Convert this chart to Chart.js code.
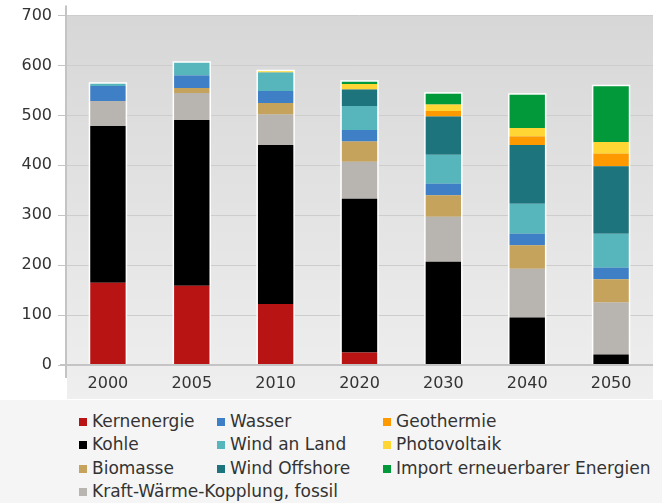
<!DOCTYPE html>
<html>
<head>
<meta charset="utf-8">
<script src="https://cdn.jsdelivr.net/npm/chart.js@4/dist/chart.umd.min.js"></script>
<style>
  body { margin: 0; background: #ffffff; width: 662px; height: 503px; overflow: hidden; position: relative; font-family: "DejaVu Sans", Verdana, sans-serif; }
  #wrap { position: absolute; left: 0; top: 0; width: 662px; height: 400px; }
  #legend-bg { position: absolute; left: 0; top: 400px; width: 662px; height: 103px; background: #f5f5f5; }
  #legend { position: absolute; left: 79px; top: 410px; display: grid;
            grid-template-rows: repeat(4, 23.3px); grid-template-columns: 138px 166px auto; }
  .item { font-size: 17px; color: #333; line-height: 23.3px; white-space: nowrap; }
  .box { display: inline-block; width: 8px; height: 8px; margin-right: 5px; vertical-align: 1px; }
</style>
</head>
<body>
<div id="legend-bg"></div>
<div id="wrap"><canvas id="myChart" width="662" height="400"></canvas></div>
<div id="legend"></div>
<script>
const years = ["2000", "2005", "2010", "2020", "2030", "2040", "2050"];
const yTicks = [0, 100, 200, 300, 400, 500, 600, 700];

const seriesNames = ["Kernenergie", "Kohle", "Kraft-Wärme-Kopplung, fossil", "Biomasse", "Wasser",
    "Wind an Land", "Wind Offshore", "Geothermie", "Photovoltaik", "Import erneuerbarer Energien"];
const seriesColors = ["#b81414", "#000000", "#b8b4b0", "#c6a35c", "#3f7fc6",
    "#57b5bc", "#1e747c", "#ff9900", "#ffd634", "#02993a"];

const kernenergie = [165, 159, 122, 25, 0, 0, 0];
const kohle = [314, 332, 319, 308, 207, 95, 21];
const kwkFossil = [50, 54, 61, 74, 90, 98, 104];
const biomasse = [0, 10, 23, 41, 43, 47, 47];
const wasser = [30, 25, 24, 23, 23, 23, 23];
const windLand = [6, 27, 37, 48, 58, 60, 68];
const windOffshore = [0, 0, 0, 33, 77, 118, 135];
const geothermie = [0, 0, 0, 0, 11, 17, 25];
const photovoltaik = [0, 0, 4, 11, 13, 17, 24];
const importEE = [0, 0, 0, 6, 23, 68, 113];

const seriesData = [kernenergie, kohle, kwkFossil, biomasse, wasser,
    windLand, windOffshore, geothermie, photovoltaik, importEE];

// legend, column by column like the original: 4 / 3 / 3
const legendOrder = [0, 1, 3, 2, 4, 5, 6, 7, 8, 9];
const legendBox = document.getElementById("legend");
legendOrder.forEach((i, n) => {
    const div = document.createElement("div");
    div.className = "item";
    div.innerHTML = '<span class="box" style="background:' + seriesColors[i] + '"></span>' + seriesNames[i];
    let col, row;
    if (n < 4) { col = 1; row = n + 1; }
    else if (n < 7) { col = 2; row = n - 3; }
    else { col = 3; row = n - 6; }
    div.style.gridColumn = col;
    div.style.gridRow = row;
    legendBox.appendChild(div);
});

const panelPlugin = {
    id: "panel",
    beforeDraw(chart) {
        const { ctx, chartArea } = chart;
        const top = chartArea.top;
        const bottom = chartArea.bottom + 34;
        const g = ctx.createLinearGradient(0, top, 0, bottom);
        g.addColorStop(0, "#d7d7d7");
        g.addColorStop(1, "#efefef");
        ctx.save();
        ctx.fillStyle = g;
        ctx.fillRect(chartArea.left + 1, top, chartArea.right - chartArea.left - 1, bottom - top);
        ctx.restore();
    },
    afterDraw(chart) {
        const { ctx, chartArea } = chart;
        ctx.save();
        ctx.strokeStyle = "#c4c4c4";
        ctx.lineWidth = 2;
        ctx.beginPath();
        ctx.moveTo(chartArea.left, chartArea.top - 10);
        ctx.lineTo(chartArea.left, chartArea.bottom + 13);
        ctx.moveTo(chartArea.left - 6, chartArea.bottom);
        ctx.lineTo(chartArea.right, chartArea.bottom);
        ctx.stroke();
        ctx.restore();
    },
    afterDatasetsDraw(chart) {
        // white outline round each stack
        const { ctx } = chart;
        const y = chart.scales.y;
        const meta = chart.getDatasetMeta(0);
        ctx.save();
        ctx.strokeStyle = "#ffffff";
        ctx.lineWidth = 1.5;
        meta.data.forEach((bar, i) => {
            let total = 0;
            seriesData.forEach(s => { total += s[i]; });
            const top = y.getPixelForValue(total);
            const bottom = y.getPixelForValue(0);
            const w = bar.width;
            ctx.strokeRect(bar.x - w / 2, top, w, bottom - top);
        });
        ctx.restore();
    }
};

const Mychart = document.getElementById("myChart");

new Chart(Mychart, {
    type: "bar",
    data: {
        labels: years,
        datasets: seriesNames.map((name, i) => ({
            label: name,
            data: seriesData[i],
            backgroundColor: seriesColors[i],
            borderWidth: 0,
            categoryPercentage: 1,
            barPercentage: 0.44,
        })),
    },
    options: {
        responsive: false,
        animation: false,
        layout: { padding: { top: 15, right: 9, left: 0, bottom: 0 } },
        plugins: {
            legend: { display: false },
            tooltip: { enabled: false },
        },
        scales: {
            x: {
                stacked: true,
                grid: { display: false },
                border: { display: false },
                ticks: { color: "#333", font: { family: "DejaVu Sans", size: 16 }, padding: 1 },
                afterFit: s => { s.height = 35; },
            },
            y: {
                stacked: true,
                min: 0,
                max: 700,
                afterBuildTicks: s => { s.ticks = yTicks.map(v => ({ value: v })); },
                grid: { color: "#cdcdcd", lineWidth: 1, tickLength: 8, tickColor: "#c4c4c4" },
                border: { display: false },
                ticks: { color: "#333", font: { family: "DejaVu Sans", size: 16 }, padding: 6 },
                afterFit: s => { s.width = 66; },
            },
        },
    },
    plugins: [panelPlugin],
});
</script>
</body>
</html>
